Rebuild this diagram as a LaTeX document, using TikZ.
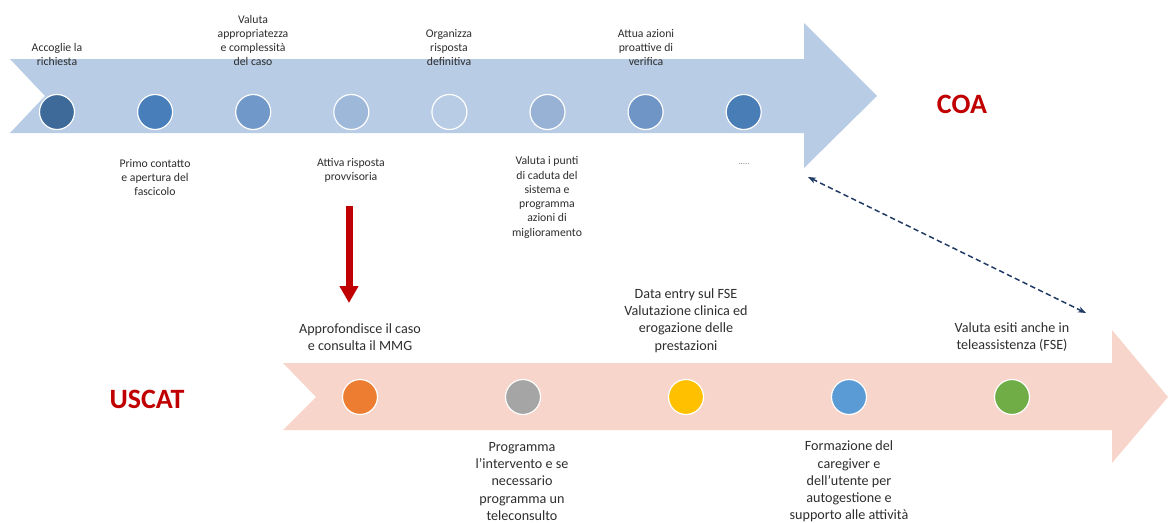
\documentclass[tikz,border=0pt]{standalone}
\usepackage{fontspec}
\setmainfont{Carlito}
\usepackage{tikz}
\usetikzlibrary{arrows.meta}
\definecolor{coaband}{RGB}{184,204,229}
\definecolor{uscatband}{RGB}{248,213,202}
\definecolor{titlered}{RGB}{192,0,0}
\definecolor{linknavy}{RGB}{31,56,100}
\definecolor{labelgray}{RGB}{45,45,45}
\definecolor{stepA}{RGB}{62,106,153}
\definecolor{stepB}{RGB}{72,127,186}
\definecolor{stepC}{RGB}{112,152,200}
\definecolor{stepD}{RGB}{158,184,218}
\definecolor{stepE}{RGB}{184,204,229}
\definecolor{stepF}{RGB}{152,178,214}
\definecolor{stepG}{RGB}{110,149,198}
\definecolor{stepH}{RGB}{72,125,182}
\definecolor{uorange}{RGB}{237,125,49}
\definecolor{ugray}{RGB}{165,165,165}
\definecolor{uyellow}{RGB}{255,192,0}
\definecolor{ublue}{RGB}{91,155,213}
\definecolor{ugreen}{RGB}{112,173,71}

\begin{document}
\begin{tikzpicture}[x=0.75pt,y=-0.75pt,
    dot/.style={circle,draw=white,line width=0.9pt,minimum size=26.25pt,inner sep=0pt},
    coalabel/.style={align=center,inner sep=0pt,text=labelgray,font=\fontsize{8.8}{10.7}\selectfont},
    uscatlabel/.style={align=center,inner sep=0pt,text=labelgray,font=\fontsize{10.6}{12.9}\selectfont},
    title/.style={inner sep=0pt,text=titlered,font=\fontsize{21}{24}\selectfont\bfseries}]
  \useasboundingbox (0,0) rectangle (1168,522);
  % the two band arrows
  \fill[coaband] (10,59) -- (804,59) -- (804,23) -- (877,96) -- (804,168) -- (804,133) -- (10,133) -- (45,96) -- cycle;
  \fill[uscatband] (283,363) -- (1112,363) -- (1112,330) -- (1168,397) -- (1112,463) -- (1112,430) -- (283,430) -- (316,397) -- cycle;
  \node[title] (coa) at (962,104) {COA};
  \node[title] (uscat) at (147,399) {USCAT};
  % COA steps
  \foreach \i/\c in {1/stepA,2/stepB,3/stepC,4/stepD,5/stepE,6/stepF,7/stepG,8/stepH}{
    \node[dot,fill=\c] (c\i) at ({57+98.1*(\i-1)},112) {};}
  \node[coalabel] (a1) at (57,54.5) {Accoglie la\\richiesta};
  \node[coalabel] (a3) at (253,40.5) {Valuta\\appropriatezza\\e complessità\\del caso};
  \node[coalabel] (a5) at (449,47.5) {Organizza\\risposta\\definitiva};
  \node[coalabel] (a7) at (646,47.5) {Attua azioni\\proattive di\\verifica};
  \node[coalabel] (b2) at (155,177.5) {Primo contatto\\e apertura del\\fascicolo};
  \node[coalabel] (b4) at (351,170.5) {Attiva risposta\\provvisoria};
  \node[coalabel] (b6) at (547,197.5) {Valuta i punti\\di caduta del\\sistema e\\programma\\azioni di\\miglioramento};
  \node[coalabel,text=black!50,font=\fontsize{6.5}{7}\selectfont] (b8) at (744,164) {.....};
  % USCAT steps
  \foreach \i/\c in {1/uorange,2/ugray,3/uyellow,4/ublue,5/ugreen}{
    \node[dot,fill=\c] (u\i) at ({360+163*(\i-1)},397) {};}
  \node[uscatlabel] (t1) at (360,337) {Approfondisce il caso\\e consulta il MMG};
  \node[uscatlabel] (t3) at (686,320.5) {Data entry sul FSE\\Valutazione clinica ed\\erogazione delle\\prestazioni};
  \node[uscatlabel] (t5) at (1012,337) {Valuta esiti anche in\\teleassistenza (FSE)};
  \node[uscatlabel] (d2) at (522,481.5) {Programma\\l’intervento e se\\necessario\\programma un\\teleconsulto};
  \node[uscatlabel] (d4) at (849,481.5) {Formazione del\\caregiver e\\dell’utente per\\autogestione e\\supporto alle attività};
  % links between the two paths
  \coordinate (handoff) at (349,206);
  \coordinate (handin) at (349,303);
  \draw[titlered,line width=5.25pt,-{Triangle[width=13.5pt,length=12.75pt]}] (handoff) -- (handin);
  \coordinate (coacorner) at (808,177);
  \coordinate (uscatcorner) at (1086,313);
  \draw[linknavy,line width=1.1pt,dash pattern=on 4pt off 2.5pt,{Stealth[length=6pt,width=4.5pt]}-{Stealth[length=6pt,width=4.5pt]}] (coacorner) -- (uscatcorner);
\end{tikzpicture}
\end{document}
